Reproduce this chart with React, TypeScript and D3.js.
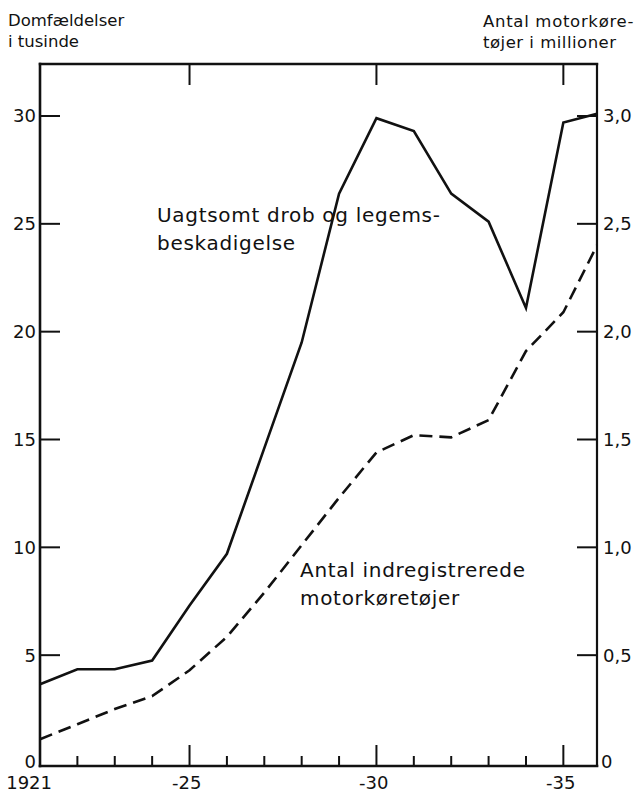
import React from "react";
import * as d3 from "d3";

// ---- data ----
const years = [1921, 1922, 1923, 1924, 1925, 1926, 1927, 1928, 1929, 1930, 1931, 1932, 1933, 1934, 1935, 1935.9];
const convictions = [3.65, 4.35, 4.35, 4.75, 7.3, 9.7, 14.6, 19.5, 26.4, 29.9, 29.3, 26.4, 25.1, 21.1, 29.7, 30.1]; // thousands
const vehicles = [0.11, 0.18, 0.25, 0.31, 0.43, 0.585, 0.79, 1.01, 1.23, 1.44, 1.52, 1.51, 1.59, 1.91, 2.09, 2.4]; // millions

const leftTicks = [5, 10, 15, 20, 25, 30];
const leftTickLabels = ["5", "10", "15", "20", "25", "30"];
const rightTicks = [0.5, 1.0, 1.5, 2.0, 2.5, 3.0];
const rightTickLabels = ["0,5", "1,0", "1,5", "2,0", "2,5", "3,0"];
const tickYears = [1921, 1922, 1923, 1924, 1925, 1926, 1927, 1928, 1929, 1930, 1931, 1932, 1933, 1934, 1935];
const majorYears = [1925, 1930, 1935];
const yearLabelYears = [1921, 1925, 1930, 1935];
const yearLabels = ["1921", "-25", "-30", "-35"];

const leftTitle = ["Domfældelser", "i tusinde"];
const rightTitle = ["Antal motorkøre-", "tøjer i millioner"];
const solidLabel = ["Uagtsomt drob og legems-", "beskadigelse"];
const dashedLabel = ["Antal indregistrerede", "motorkøretøjer"];

// ---- layout ----
const W = 638;
const H = 793;
const X_START = 1921;
const X_END = 1935.9;
const FRAME_TOP = 64;
const FRAME_BOTTOM = 766;
const FONT = "'DejaVu Sans', sans-serif";

export default function App() {
  const x = d3.scaleLinear().domain([X_START, X_END]).range([40, 597]);
  const yL = d3.scaleLinear().domain([0, 30]).range([763, 116]);
  const yR = d3.scaleLinear().domain([0, 3]).range([763, 116]);

  const left = x(X_START);
  const right = x(X_END);

  const solidLine = d3
    .line<number>()
    .x((_, i) => x(years[i]))
    .y((d) => yL(d));
  const dashedLine = d3
    .line<number>()
    .x((_, i) => x(years[i]))
    .y((d) => yR(d));

  const textStyle = { fontFamily: FONT, fill: "#111" } as React.CSSProperties;

  return (
    <svg
      width={W}
      height={H}
      viewBox={`0 0 ${W} ${H}`}
      style={{ position: "absolute", left: 0, top: 0, background: "#fff" }}
    >
      <rect x={0} y={0} width={W} height={H} fill="#fff" />

      {/* titles */}
      <g style={textStyle} fontSize={16.5}>
        <text x={8} y={26}>{leftTitle[0]}</text>
        <text x={8} y={47}>{leftTitle[1]}</text>
        <text x={483} y={27} letterSpacing={0.7}>{rightTitle[0]}</text>
        <text x={483} y={48} letterSpacing={0.5}>{rightTitle[1]}</text>
      </g>

      {/* frame */}
      <g stroke="#111" fill="none" strokeLinecap="square">
        <line x1={left} y1={FRAME_TOP} x2={left} y2={FRAME_BOTTOM} strokeWidth={2.6} />
        <line x1={right} y1={FRAME_TOP} x2={right} y2={FRAME_BOTTOM} strokeWidth={2.2} />
        <line x1={left} y1={FRAME_TOP} x2={right} y2={FRAME_TOP} strokeWidth={2.4} />
        <line x1={left} y1={FRAME_BOTTOM} x2={right} y2={FRAME_BOTTOM} strokeWidth={2.6} />
      </g>

      {/* ticks */}
      <g stroke="#111" strokeWidth={2}>
        {leftTicks.map((v) => (
          <line key={"lt" + v} x1={left} x2={left + 20} y1={yL(v)} y2={yL(v)} />
        ))}
        {rightTicks.map((v) => (
          <line key={"rt" + v} x1={right - 20} x2={right} y1={yR(v)} y2={yR(v)} />
        ))}
        {tickYears.map((yr) => {
          const major = majorYears.includes(yr);
          return (
            <line
              key={"bt" + yr}
              x1={x(yr)}
              x2={x(yr)}
              y1={FRAME_BOTTOM}
              y2={FRAME_BOTTOM - (major ? 21 : 10)}
            />
          );
        })}
        {majorYears.map((yr) => (
          <line key={"tt" + yr} x1={x(yr)} x2={x(yr)} y1={FRAME_TOP} y2={FRAME_TOP + 21} />
        ))}
      </g>

      {/* tick labels */}
      <g style={textStyle} fontSize={18}>
        {leftTicks.map((v, i) => (
          <text key={"ll" + v} x={left - 4} y={yL(v)} dy="0.36em" textAnchor="end">
            {leftTickLabels[i]}
          </text>
        ))}
        <text x={left - 4} y={yL(0)} dy="0.3em" textAnchor="end">0</text>
        {rightTicks.map((v, i) => (
          <text key={"rl" + v} x={right + 6} y={yR(v)} dy="0.36em" textAnchor="start">
            {rightTickLabels[i]}
          </text>
        ))}
        <text x={right + 4} y={yR(0)} dy="0.3em" textAnchor="start">0</text>
        {yearLabelYears.map((yr, i) => (
          <text key={"yl" + yr} x={x(yr) + 12} y={789} textAnchor="end">
            {yearLabels[i]}
          </text>
        ))}
      </g>

      {/* series */}
      <path
        d={solidLine(convictions) || ""}
        fill="none"
        stroke="#111"
        strokeWidth={2.6}
        strokeLinejoin="miter"
      />
      <path
        d={dashedLine(vehicles) || ""}
        fill="none"
        stroke="#111"
        strokeWidth={2.6}
        strokeDasharray="13,7"
      />

      {/* series labels */}
      <g style={textStyle} fontSize={20} letterSpacing={0.7}>
        <text x={157} y={222}>{solidLabel[0]}</text>
        <text x={157} y={250}>{solidLabel[1]}</text>
        <text x={300} y={577}>{dashedLabel[0]}</text>
        <text x={300} y={605}>{dashedLabel[1]}</text>
      </g>
    </svg>
  );
}
